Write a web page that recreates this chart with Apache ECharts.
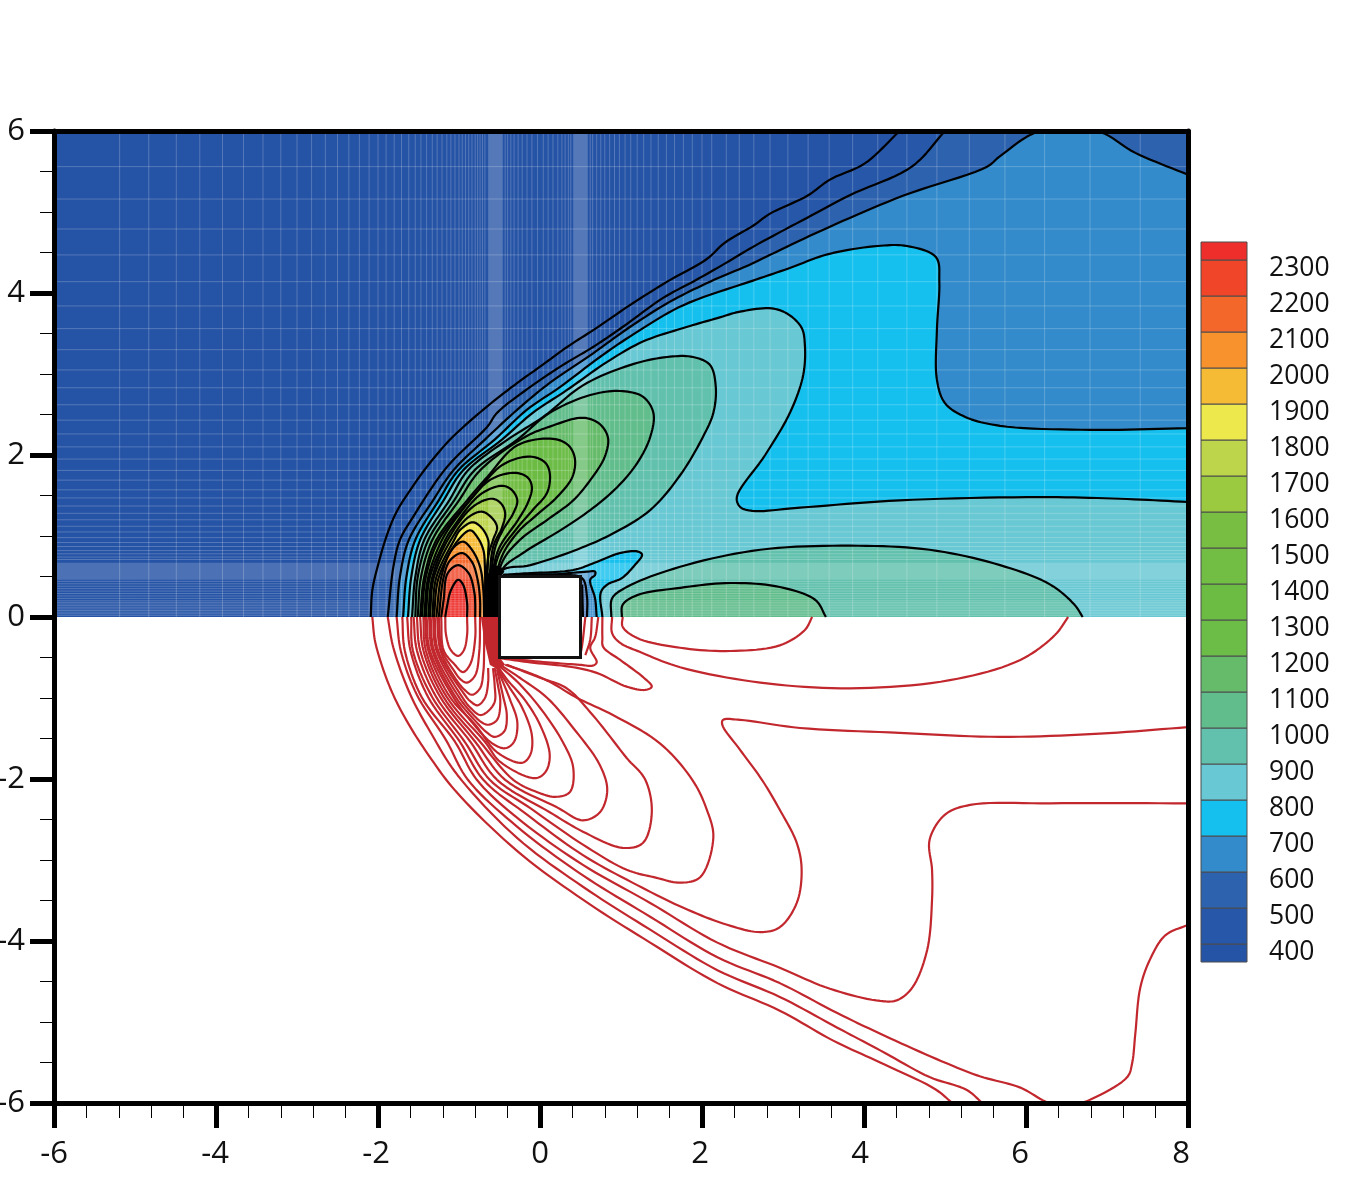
<!DOCTYPE html>
<html>
<head>
<meta charset="utf-8">
<title>Contour field around a square body</title>
<script src="https://cdn.jsdelivr.net/npm/echarts@6/dist/echarts.min.js"></script>
<style>html,body{margin:0;padding:0;background:#fff}#chart{width:1351px;height:1201px}</style>
</head>
<body>
<div id="chart"></div>
<script>
// Contour lines of the upper half, outer levels first. Each is [x, y] in axis units.
const up400 = [[-2.09,0],[-2.07,.33],[-2.0,.64],[-1.89,1.01],[-1.77,1.30],[-1.60,1.57],[-1.40,1.85],[-1.11,2.19],[-.70,2.56],[-.28,2.89],[0,3.09],[.33,3.33],[.70,3.57],[1.11,3.85],[1.57,4.14],[2.06,4.42],[2.28,4.62],[2.63,4.83],[2.84,4.98],[3.30,5.20],[3.58,5.40],[4.01,5.60],[4.44,6]];
const up500 = [[-1.88,0],[-1.81,.62],[-1.73,.95],[-1.57,1.23],[-1.15,1.85],[-.65,2.35],[-.53,2.52],[-.12,2.84],[.28,3.11],[.65,3.33],[1.02,3.58],[1.52,3.94],[1.89,4.14],[2.26,4.35],[2.63,4.57],[3.30,4.93],[3.83,5.21],[4.59,5.56],[5.0,6]];
const up600 = [[-1.77,0],[-1.73,.49],[-1.62,.95],[-1.32,1.44],[-1.07,1.81],[-.68,2.19],[-.28,2.56],[.12,2.89],[.62,3.23],[1.11,3.58],[1.60,3.89],[2.10,4.14],[2.59,4.35],[2.86,4.48],[3.56,4.81],[4.48,5.20],[5.52,5.56],[5.68,5.69],[6.17,6],[6.88,6],[7.35,5.73],[8,5.46]];
const up700 = [[-1.69,0],[-1.65,.49],[-1.54,.95],[-1.25,1.44],[-1.01,1.81],[-.56,2.19],[-.16,2.56],[.25,2.84],[.74,3.21],[1.20,3.52],[1.77,3.85],[2.62,4.15],[3.06,4.30],[3.56,4.48],[4.17,4.58],[4.53,4.58],[4.89,4.44],[4.93,4.14],[4.90,3.54],[4.90,2.93],[5.0,2.64],[5.25,2.47],[5.68,2.36],[6.79,2.31],[8,2.33]];
const up800 = [[-1.63,0],[-1.59,.49],[-1.48,.95],[-1.19,1.44],[-.95,1.81],[-.47,2.19],[-.09,2.52],[.33,2.80],[.83,3.15],[1.27,3.40],[1.81,3.58],[2.19,3.69],[2.47,3.77],[2.86,3.81],[3.06,3.74],[3.23,3.57],[3.27,3.36],[3.25,2.99],[3.09,2.53],[2.78,2.0],[2.43,1.48],[2.47,1.36],[2.62,1.31],[3.21,1.35],[4.44,1.44],[6.17,1.48],[7.16,1.46],[8,1.42]];
const up900 = [[-1.58,0],[-1.54,.49],[-1.43,.95],[-1.12,1.44],[-.89,1.81],[-.40,2.19],[.04,2.47],[.53,2.86],[1.11,3.11],[1.57,3.21],[1.89,3.21],[2.10,3.11],[2.17,2.84],[2.14,2.52],[2.01,2.22],[1.73,1.75],[1.36,1.32],[.86,1.01],[.37,.80],[-.12,.64],[-.49,.56],[-.59,0]];
const up1000 = [[-1.54,0],[-1.51,.49],[-1.38,.95],[-1.06,1.44],[-.81,1.81],[-.28,2.19],[.12,2.52],[.62,2.74],[.99,2.79],[1.27,2.72],[1.40,2.52],[1.36,2.22],[1.20,1.90],[.95,1.60],[.62,1.32],[.25,1.07],[-.21,.79],[-.47,.58],[-.59,0]];
const up1100 = [[-1.51,0],[-1.47,.49],[-1.33,.95],[-1.0,1.44],[-.74,1.81],[-.19,2.22],[.12,2.35],[.53,2.46],[.74,2.38],[.84,2.21],[.80,1.98],[.65,1.73],[.41,1.44],[.09,1.20],[-.25,.95],[-.47,.67],[-.59,0]];
const up1200 = [[-1.48,0],[-1.43,.49],[-1.28,.95],[-.90,1.44],[-.65,1.73],[-.28,2.12],[.16,2.20],[.35,2.12],[.43,1.96],[.40,1.73],[.21,1.48],[-.04,1.26],[-.28,1.04],[-.49,.70],[-.59,0]];
const up1300 = [[-1.46,0],[-1.41,.49],[-1.25,.95],[-.83,1.48],[-.46,1.88],[-.12,1.98],[.06,1.91],[.12,1.78],[.09,1.54],[-.09,1.32],[-.28,1.10],[-.52,.74],[-.62,0]];
const up1400 = [[-1.43,0],[-1.38,.49],[-1.21,.95],[-.99,1.28],[-.62,1.69],[-.31,1.78],[-.15,1.72],[-.10,1.60],[-.15,1.41],[-.27,1.20],[-.53,.79],[-.62,0]];
const up1500 = [[-1.41,0],[-1.36,.49],[-1.17,.95],[-1.07,1.11],[-.74,1.51],[-.47,1.62],[-.35,1.57],[-.28,1.44],[-.33,1.28],[-.46,1.07],[-.56,.83],[-.64,0]];
const up1600 = [[-1.38,0],[-1.33,.49],[-1.14,.95],[-.83,1.36],[-.59,1.46],[-.48,1.40],[-.43,1.28],[-.47,1.10],[-.58,.86],[-.64,0]];
const up1700 = [[-1.36,0],[-1.31,.49],[-1.10,.95],[-.90,1.22],[-.72,1.30],[-.60,1.23],[-.53,1.11],[-.58,.95],[-.64,.74],[-.67,0]];
const up1800 = [[-1.33,0],[-1.28,.49],[-1.06,.95],[-.99,1.07],[-.83,1.17],[-.72,1.10],[-.64,.95],[-.64,.79],[-.67,0]];
const up1900 = [[-1.31,0],[-1.25,.49],[-1.01,.95],[-.86,1.07],[-.77,.98],[-.70,.83],[-.68,.62],[-.68,0]];
const up2000 = [[-1.28,0],[-1.22,.49],[-1.09,.83],[-.95,.93],[-.84,.83],[-.74,.62],[-.70,.33],[-.69,0]];
const up2100 = [[-1.25,0],[-1.19,.49],[-1.11,.70],[-.96,.79],[-.84,.68],[-.77,.46],[-.74,.21],[-.74,0]];
const up2200 = [[-1.22,0],[-1.19,.21],[-1.14,.54],[-1.01,.64],[-.88,.54],[-.81,.30],[-.80,.17],[-.80,0]];
const up2300 = [[-1.17,0],[-1.15,.12],[-1.10,.33],[-1.01,.46],[-.95,.40],[-.90,.17],[-.90,0]];

// Low-value pockets hugging the body, and the wake lobes downstream of it.
const pocket800 = [[.77,0],[.75,.30],[.83,.40],[1.01,.48],[1.17,.64],[1.26,.77],[1.20,.81],[.99,.79],[.70,.68],[.41,.58],[-.16,.54],[-.46,.52]];
const pocket700 = [[.70,0],[.68,.23],[.62,.46],[.68,.52],[.68,.56],[.58,.56],[.09,.52],[-.33,.52]];
const pocket600 = [[.58,0],[.58,.25],[.52,.48],[.25,.52],[-.37,.52]];
const pocket500 = [[.53,0],[.52,.40]];
const wake900 = [[6.70,0],[6.60,.15],[6.30,.40],[5.68,.64],[4.81,.83],[3.83,.88],[2.72,.83],[1.73,.62],[1.07,.37],[.89,.23],[.88,0]];
const wake1000 = [[3.53,0],[3.40,.21],[2.96,.37],[2.35,.42],[1.73,.36],[1.20,.27],[1.02,.15],[1.01,0]];

// Contour lines of the lower half.
const low400 = [[-2.07,0],[-2.04,-.28],[-1.98,-.51],[-1.88,-.80],[-1.77,-1.05],[-1.60,-1.36],[-1.40,-1.67],[-1.05,-2.14],[-.28,-2.89],[.53,-3.49],[1.36,-4.02],[2.19,-4.52],[2.96,-4.86],[3.62,-5.23],[4.20,-5.50],[4.88,-5.83],[5.10,-6.01]];
const low500 = [[-1.88,0],[-1.81,-.38],[-1.60,-.96],[-1.33,-1.46],[-1.02,-1.95],[-.28,-2.73],[.53,-3.33],[1.36,-3.86],[2.19,-4.36],[2.96,-4.69],[3.67,-5.07],[4.20,-5.35],[4.81,-5.68],[5.27,-5.84],[5.47,-6.01]];
const low600 = [[-1.77,0],[-1.72,-.41],[-1.52,-.96],[-1.16,-1.52],[-.89,-2.01],[-.28,-2.59],[.53,-3.19],[1.36,-3.70],[2.19,-4.20],[2.96,-4.52],[3.67,-4.89],[4.32,-5.20],[5.02,-5.51],[5.43,-5.67],[5.93,-5.81],[6.26,-5.99],[6.40,-6.01]];
const low600b = [[6.63,-6.01],[6.79,-5.96],[7.25,-5.68],[7.31,-5.51],[7.35,-5.14],[7.41,-4.58],[7.53,-4.23],[7.72,-3.93],[8,-3.80]];
const low700 = [[-1.70,0],[-1.67,-.41],[-1.46,-.99],[-1.05,-1.54],[-.78,-2.01],[-.28,-2.48],[.53,-3.06],[1.36,-3.53],[2.19,-4.02],[2.96,-4.33],[3.58,-4.59],[4.20,-4.74],[4.41,-4.73],[4.60,-4.57],[4.78,-4.11],[4.84,-3.49],[4.84,-3.12],[4.81,-2.75],[5.0,-2.44],[5.31,-2.32],[6.30,-2.30],[8,-2.30]];
const low800 = [[-1.64,0],[-1.60,-.41],[-1.38,-.99],[-.99,-1.54],[-.70,-2.01],[-.16,-2.44],[.53,-2.94],[1.20,-3.31],[1.77,-3.59],[2.31,-3.80],[2.72,-3.89],[2.96,-3.83],[3.17,-3.53],[3.23,-3.12],[3.17,-2.79],[2.96,-2.38],[2.74,-2.01],[2.47,-1.64],[2.25,-1.33],[2.26,-1.27],[2.47,-1.27],[3.21,-1.37],[4.44,-1.43],[5.68,-1.48],[6.91,-1.44],[8,-1.36]];
const low900 = [[-1.59,0],[-1.57,-.41],[-1.33,-.99],[-.93,-1.54],[-.62,-2.01],[-.12,-2.36],[.53,-2.81],[1.07,-3.12],[1.44,-3.22],[1.73,-3.28],[1.98,-3.21],[2.14,-2.72],[2.06,-2.38],[1.88,-2.01],[1.48,-1.56],[.90,-1.21],[.46,-1.0],[.12,-.80],[-.16,-.68],[-.43,-.59]];
const low1000 = [[-1.56,0],[-1.52,-.41],[-1.28,-.99],[-.86,-1.54],[-.53,-2.01],[.12,-2.41],[.53,-2.65],[1.02,-2.85],[1.27,-2.79],[1.38,-2.42],[1.30,-2.01],[1.07,-1.74],[.65,-1.21],[.33,-.88],[0,-.75],[-.41,-.59]];
const low1100 = [[-1.52,0],[-1.48,-.41],[-1.23,-.99],[-.80,-1.54],[-.43,-2.01],[.21,-2.35],[.53,-2.51],[.74,-2.41],[.83,-2.14],[.74,-1.83],[.41,-1.37],[.09,-1.0],[-.25,-.75],[-.49,-.59]];
const low1200 = [[-1.48,0],[-1.44,-.41],[-1.19,-.99],[-.74,-1.54],[-.33,-2.01],[-.04,-2.16],[.19,-2.22],[.37,-2.16],[.41,-1.86],[.28,-1.54],[0,-1.12],[-.28,-.80],[-.52,-.59]];
const low1300 = [[-1.44,0],[-1.41,-.41],[-1.15,-.99],[-.68,-1.54],[-.49,-1.79],[-.06,-1.99],[.07,-1.91],[.12,-1.70],[0,-1.33],[-.19,-1.02],[-.40,-.78],[-.53,-.60]];
const low1400 = [[-1.42,0],[-1.38,-.41],[-1.11,-.99],[-.80,-1.33],[-.53,-1.67],[-.22,-1.80],[-.12,-1.70],[-.10,-1.46],[-.22,-1.12],[-.37,-.88],[-.53,-.63]];
const low1500 = [[-1.40,0],[-1.36,-.41],[-1.07,-.99],[-.84,-1.30],[-.59,-1.56],[-.43,-1.62],[-.32,-1.54],[-.28,-1.30],[-.37,-1.02],[-.53,-.63]];
const low1600 = [[-1.37,0],[-1.33,-.41],[-1.04,-.99],[-.81,-1.27],[-.65,-1.43],[-.56,-1.48],[-.44,-1.41],[-.41,-1.21],[-.46,-.96],[-.53,-.65]];
const low1700 = [[-1.35,0],[-1.31,-.41],[-1.0,-.99],[-.83,-1.20],[-.72,-1.30],[-.64,-1.33],[-.53,-1.27],[-.49,-1.05],[-.52,-.84],[-.56,-.63]];
const low1800 = [[-1.32,0],[-1.28,-.41],[-.96,-.99],[-.86,-1.12],[-.74,-1.21],[-.65,-1.17],[-.56,-1.05],[-.56,-.84],[-.58,-.63]];
const low1900 = [[-1.30,0],[-1.26,-.41],[-.93,-.96],[-.86,-1.04],[-.77,-1.09],[-.68,-1.0],[-.64,-.80],[-.64,-.63]];
const low2000 = [[-1.27,0],[-1.23,-.41],[-1.05,-.75],[-.93,-.90],[-.84,-.96],[-.74,-.88],[-.70,-.68],[-.69,-.41],[-.69,0]];
const low2100 = [[-1.25,0],[-1.21,-.41],[-1.07,-.65],[-.98,-.77],[-.90,-.81],[-.80,-.72],[-.75,-.43],[-.74,0]];
const low2200 = [[-1.22,0],[-1.19,-.41],[-1.06,-.58],[-.95,-.68],[-.86,-.58],[-.80,-.26],[-.80,0]];
const low2300 = [[-1.17,0],[-1.16,-.22],[-1.10,-.41],[-1.01,-.48],[-.94,-.41],[-.90,-.22],[-.90,0]];
const lowPocket500 = [[.56,0],[.52,-.35],[.49,-.51]];
const lowPocket600 = [[.64,0],[.62,-.28],[.56,-.47]];
const lowPocket700 = [[.72,0],[.68,-.25],[.62,-.38],[.70,-.56],[.65,-.60],[.49,-.59],[.09,-.56],[-.41,-.51]];
const lowPocket800 = [[.77,0],[.77,-.25],[.78,-.37],[.99,-.53],[1.27,-.74],[1.38,-.86],[1.30,-.90],[1.07,-.86],[.70,-.69],[.41,-.62],[-.12,-.56],[-.49,-.51]];
const lowWake900 = [[.89,0],[.89,-.20],[.99,-.32],[1.23,-.43],[1.73,-.62],[2.72,-.81],[3.83,-.88],[5.06,-.78],[5.93,-.53],[6.36,-.22],[6.52,0]];
const lowWake1000 = [[1.02,0],[1.02,-.12],[1.20,-.26],[1.73,-.38],[2.35,-.42],[2.96,-.35],[3.27,-.16],[3.36,0]];

// Packed contours against the body's left wall, and the body itself.
const wallUpper = [[-.69,0],[-.69,.33],[-.65,.52],[-.58,.64],[-.49,.63],[-.44,.56],[-.49,.49],[-.49,0]];
const wallLower = [[-.73,0],[-.69,-.28],[-.62,-.59],[-.52,-.65],[-.43,-.59],[-.49,-.51],[-.49,0]];
const body = [[-.5,.5],[.5,.5],[.5,-.5],[-.5,-.5]];

// Computational mesh lines showing through the filled field.
const meshX = [-5.19,-4.83,-4.49,-4.2,-3.92,-3.66,-3.42,-3.2,-3.0,-2.82,-2.65,-2.5,-2.36,-2.23,-2.11,-2.0,-1.9,-1.8,-1.71,-1.62,-1.54,-1.47,-1.4,-1.33,-1.27,-1.21,-1.15,-1.1,-1.05,-1.0,-.96,-.92,-.88,-.84,-.8,-.77,-.74,-.71,-.68,-.43,-.4,-.36,-.32,-.27,-.22,-.16,-.1,-.03,.04,.1,.16,.22,.27,.31,.35,.38,.62,.65,.7,.75,.8,.86,.92,.98,1.05,1.12,1.2,1.28,1.37,1.46,1.56,1.66,1.77,1.88,2.0,2.12,2.30,2.46,2.64,2.84,3.06,3.31,3.57,3.86,4.17,4.53,4.90,5.30,5.74,6.23,6.79,7.41];
const meshY = [5.56,5.16,4.79,4.47,4.14,3.84,3.56,3.30,3.05,2.83,2.62,2.43,2.26,2.10,1.95,1.81,1.69,1.57,1.47,1.37,1.28,1.2,1.12,1.05,.98,.92,.87,.82,.78,.74,.71,.44,.41,.38,.35,.32,.29,.26,.23,.2,.18,.16,.14,.12,.1,.08,.06,.04,.02];
const meshBandsX = [[-.64,-.46],[.41,.59]];
const meshBandY = [.46,.67];

// Colour scale: one colour per band, from the band under 400 up to the band over 2300.
const levelEdges = [350,400,500,600,700,800,900,1000,1100,1200,1300,1400,1500,1600,1700,1800,1900,2000,2100,2200,2300,2350];
const bandColors = ['#2553a5','#2757a8','#2d62ae','#338bcb','#16c0ee','#68c8d3','#62c1ad','#62bd8c','#65bb6a','#6cbc48','#6cbc44','#72bd44','#78be43','#9bc93f','#bdd54b','#ede84b','#f6bb35','#f7922d','#f4672b','#f04528','#ee2e2a'];
const legendLabels = [400,500,600,700,800,900,1000,1100,1200,1300,1400,1500,1600,1700,1800,1900,2000,2100,2200,2300];

const xTicks = [-6,-4,-2,0,2,4,6,8];
const xLabelShift = [0,1,2,0,2,4,6,7];

const colorOf = level => bandColors[levelEdges.indexOf(level)];
const FONT = '"Open Sans", "Noto Sans", sans-serif';
const INK = '#000000';
const WAKE_INK = '#c1272d';
const CONTOUR_WIDTH = 2.2;

// Centripetal Catmull-Rom through already projected points, so fills and strokes share one outline.
function curveThrough(pts, samples) {
  const out = [pts[0]];
  const gap = (a, b) => Math.max(Math.pow(Math.hypot(b[0]-a[0], b[1]-a[1]), 0.5), 1e-3);
  for (let i = 0; i < pts.length - 1; i++) {
    const p1 = pts[i], p2 = pts[i+1];
    const p0 = pts[i-1] || [2*p1[0]-p2[0], 2*p1[1]-p2[1]];
    const p3 = pts[i+2] || [2*p2[0]-p1[0], 2*p2[1]-p1[1]];
    const t1 = gap(p0,p1), t2 = t1 + gap(p1,p2), t3 = t2 + gap(p2,p3);
    for (let s = 1; s <= samples; s++) {
      const t = t1 + (t2 - t1) * s / samples;
      const mix = (a, b, ta, tb) => [0,1].map(k => (tb-t)/(tb-ta)*a[k] + (t-ta)/(tb-ta)*b[k]);
      const a1 = mix(p0,p1,0,t1), a2 = mix(p1,p2,t1,t2), a3 = mix(p2,p3,t2,t3);
      const b1 = mix(a1,a2,0,t2), b2 = mix(a2,a3,t1,t3);
      out.push(mix(b1,b2,t1,t2));
    }
  }
  return out;
}

// Fills a region bounded by a curved contour plus straight closing corners.
// The renderer runs once per series, on its first point.
function fillSeries(curve, corners, color, z) {
  return {
    type: 'custom', coordinateSystem: 'cartesian2d', xAxisIndex: 0, yAxisIndex: 0, clip: true, z, silent: true,
    data: curve.concat(corners),
    renderItem(params, api) {
      if (params.dataIndex !== 0) return null;
      const outline = curve.length > 2 ? curveThrough(curve.map(p => api.coord(p)), 10) : curve.map(p => api.coord(p));
      const rest = corners.map(p => api.coord(p));
      return {type: 'polygon', shape: {points: outline.concat(rest)}, style: {fill: color, stroke: null}};
    }
  };
}
// Straight-edged region, no curve fitting.
const flatSeries = (points, color, z) => fillSeries([], points, color, z);

function lineSeries(points, color, z) {
  return {
    type: 'custom', coordinateSystem: 'cartesian2d', xAxisIndex: 0, yAxisIndex: 0, clip: true, z, silent: true,
    data: points,
    renderItem(params, api) {
      if (params.dataIndex !== 0) return null;
      return {type: 'polyline', shape: {points: curveThrough(points.map(p => api.coord(p)), 10)}, style: {fill: null, stroke: color, lineWidth: CONTOUR_WIDTH, lineJoin: 'round'}};
    }
  };
}

const upperLobes = [up900,up1000,up1100,up1200,up1300,up1400,up1500,up1600,up1700,up1800,up1900,up2000,up2100,up2200,up2300];
const upperLobeLevels = [900,1000,1100,1200,1300,1400,1500,1600,1700,1800,1900,2000,2100,2200,2300];
const lowerLines = [low400,low500,low600,low600b,low700,low800,low900,low1000,low1100,low1200,low1300,low1400,low1500,low1600,low1700,low1800,low1900,low2000,low2100,low2200,low2300,lowPocket500,lowPocket600,lowPocket700,lowPocket800,lowWake900,lowWake1000];
const upperLines = [up400,up500,up600,up700,up800,...upperLobes,pocket500,pocket600,pocket700,pocket800,wake900,wake1000];

const fullField = [[-6,6],[8,6],[8,0],[-6,0]];
const topRight = [[8,6],[8,0]];
const rightFoot = [[8,0]];
const footOf = pts => [[pts[pts.length-1][0],0]];

const series = [];
// Filled bands, painted from the lowest level upward.
series.push(flatSeries(fullField, colorOf(350), 2));
series.push(fillSeries(up400, topRight, colorOf(400), 2));
series.push(fillSeries(up500, topRight, colorOf(500), 2));
series.push(fillSeries(up600, rightFoot, colorOf(600), 2));
series.push(fillSeries(up700, rightFoot, colorOf(700), 2));
series.push(fillSeries(up800, rightFoot, colorOf(800), 2));
series.push(fillSeries(pocket800, footOf(pocket800), colorOf(700), 2));
series.push(fillSeries(pocket700, footOf(pocket700), colorOf(600), 2));
series.push(fillSeries(pocket600, footOf(pocket600), colorOf(500), 2));
upperLobes.forEach((pts, i) => series.push(fillSeries(pts, [], colorOf(upperLobeLevels[i]), 2)));
series.push(fillSeries(wake900, [], colorOf(900), 2));
series.push(fillSeries(wake1000, [], colorOf(1000), 2));

// Mesh overlay.
series.push({
  type: 'custom', coordinateSystem: 'cartesian2d', xAxisIndex: 0, yAxisIndex: 0, clip: true, z: 3, silent: true,
  data: [0],
  renderItem(params, api) {
    const kids = [];
    const stroke = 'rgba(255,255,255,0.22)';
    meshX.forEach(x => {
      const a = api.coord([x,0]), b = api.coord([x,6]);
      kids.push({type:'line', shape:{x1:a[0],y1:a[1],x2:b[0],y2:b[1]}, style:{stroke, lineWidth:1}});
    });
    meshY.forEach(y => {
      const a = api.coord([-6,y]), b = api.coord([8,y]);
      kids.push({type:'line', shape:{x1:a[0],y1:a[1],x2:b[0],y2:b[1]}, style:{stroke, lineWidth:1}});
    });
    meshBandsX.forEach(band => {
      const a = api.coord([band[0],6]), b = api.coord([band[1],0]);
      kids.push({type:'rect', shape:{x:a[0],y:a[1],width:b[0]-a[0],height:b[1]-a[1]}, style:{fill:'rgba(255,255,255,0.22)'}});
    });
    const c = api.coord([-6,meshBandY[1]]), d = api.coord([8,meshBandY[0]]);
    kids.push({type:'rect', shape:{x:c[0],y:c[1],width:d[0]-c[0],height:d[1]-c[1]}, style:{fill:'rgba(255,255,255,0.18)'}});
    return {type:'group', children:kids};
  }
});

upperLines.forEach(pts => series.push(lineSeries(pts, INK, 6)));
lowerLines.forEach(pts => series.push(lineSeries(pts, WAKE_INK, 5)));
series.push(flatSeries(wallUpper, INK, 7));
series.push(flatSeries(wallLower, WAKE_INK, 7));

// The square body.
series.push({
  type: 'custom', coordinateSystem: 'cartesian2d', xAxisIndex: 0, yAxisIndex: 0, z: 8, silent: true,
  data: body,
  renderItem(params, api) {
    if (params.dataIndex !== 0) return null;
    return {type:'polygon', shape:{points: body.map(p => api.coord(p))}, style:{fill:'#ffffff', stroke:'#111111', lineWidth:3}};
  }
});

// Colour bar.
series.push({
  type: 'custom', coordinateSystem: 'cartesian2d', xAxisIndex: 2, yAxisIndex: 2, z: 3, silent: true,
  data: bandColors.map((c, i) => [levelEdges[i], levelEdges[i + 1]]),
  renderItem(params, api) {
    const lo = api.value(0), hi = api.value(1);
    const a = api.coord([0, hi]), b = api.coord([1, lo]);
    return {type:'rect', shape:{x:a[0],y:a[1],width:b[0]-a[0],height:b[1]-a[1]},
      style:{fill: bandColors[params.dataIndex], stroke:'#4d4d4d', lineWidth:1}};
  }
});

const xRich = {};
[0,1,2,4,6,7].forEach(s => { xRich['s'+s] = {fontFamily:FONT, fontSize:31, color:'#111', padding:[0,2*s,0,0]}; });

const option = {
  backgroundColor: '#ffffff',
  animation: false,
  grid: [
    {left:54, top:131, width:1134, height:972, outerBoundsMode:'none'},
    {left:1201, top:242, width:46, height:720, outerBoundsMode:'none'}
  ],
  xAxis: [
    {type:'value', gridIndex:0, min:-6, max:8, interval:2, position:'bottom', z:10,
     axisLine:{onZero:false, lineStyle:{color:'#000', width:5}},
     axisTick:{show:true, length:25, lineStyle:{color:'#000', width:5}},
     minorTick:{show:true, splitNumber:5, length:15, lineStyle:{color:'#000', width:1}},
     splitLine:{show:false},
     axisLabel:{show:true, margin:36, showMinLabel:true, showMaxLabel:true, hideOverlap:false,
       formatter: v => '{s'+xLabelShift[xTicks.indexOf(v)]+'|'+v+'}', rich:xRich}},
    {type:'value', gridIndex:0, min:-6, max:8, position:'top', z:10,
     axisLine:{onZero:false, lineStyle:{color:'#000', width:5}}, axisTick:{show:false}, axisLabel:{show:false}, splitLine:{show:false}},
    {type:'value', gridIndex:1, min:0, max:1, show:false}
  ],
  yAxis: [
    {type:'value', gridIndex:0, min:-6, max:6, interval:2, position:'left', z:10,
     axisLine:{onZero:false, lineStyle:{color:'#000', width:5}},
     axisTick:{show:true, length:24, lineStyle:{color:'#000', width:5}},
     minorTick:{show:true, splitNumber:4, length:14, lineStyle:{color:'#000', width:1}},
     splitLine:{show:false},
     axisLabel:{show:true, margin:29, fontFamily:FONT, fontSize:31, color:'#111', showMinLabel:true, showMaxLabel:true, hideOverlap:false}},
    {type:'value', gridIndex:0, min:-6, max:6, position:'right', z:10,
     axisLine:{onZero:false, lineStyle:{color:'#000', width:5}}, axisTick:{show:false}, axisLabel:{show:false}, splitLine:{show:false}},
    {type:'value', gridIndex:1, min:350, max:2350, position:'right', z:10,
     axisLine:{show:false}, axisTick:{show:false}, splitLine:{show:false},
     axisLabel:{show:true, customValues:legendLabels, margin:22, align:'left', hideOverlap:false,
       formatter: v => '{t|' + v + '}',
       rich:{t:{fontFamily:FONT, fontSize:26.5, color:'#111', padding:[16,0,0,0]}}}}
  ],
  series
};

const chart = echarts.init(document.getElementById('chart'), null, {renderer:'canvas'});
chart.setOption(option);
</script>
</body>
</html>
